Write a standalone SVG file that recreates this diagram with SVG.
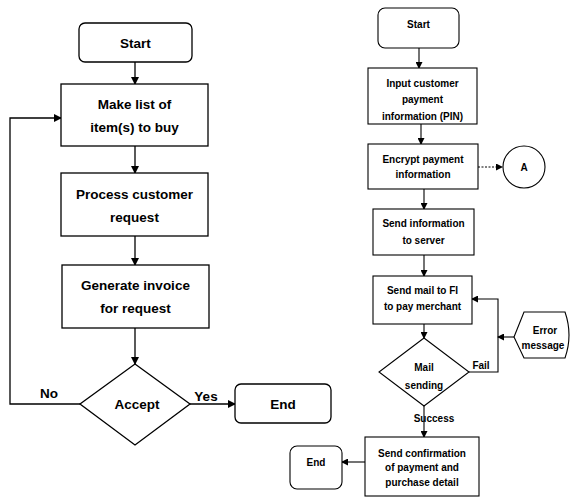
<svg xmlns="http://www.w3.org/2000/svg" width="572" height="499" viewBox="0 0 572 499">
<style>
.n{fill:#fff;stroke:#000;stroke-width:1.3}
.nr{fill:#fff;stroke:#000;stroke-width:1.1}
.c{fill:none;stroke:#000;stroke-width:1.3}
.cr{fill:none;stroke:#000;stroke-width:1.1}
.tl{font-family:"Liberation Sans",Arial,sans-serif;font-weight:bold;font-size:13.5px;text-anchor:middle;dominant-baseline:central}
.tr{font-family:"Liberation Sans",Arial,sans-serif;font-weight:bold;font-size:10px;text-anchor:middle;dominant-baseline:central}
</style>
<defs>
<marker id="ah" markerWidth="8" markerHeight="8" refX="7" refY="4" orient="auto" markerUnits="userSpaceOnUse"><path d="M0,0 L8,4 L0,8 Z" fill="#000"/></marker>
<marker id="ahs" markerWidth="7" markerHeight="7" refX="6" refY="3.5" orient="auto" markerUnits="userSpaceOnUse"><path d="M0,0 L7,3.5 L0,7 Z" fill="#000"/></marker>
</defs>
<g id="connectors">
<path class="c" d="M135,62 V84" marker-end="url(#ah)"/>
<path class="c" d="M135,146 V173" marker-end="url(#ah)"/>
<path class="c" d="M135,236 V265" marker-end="url(#ah)"/>
<path class="c" d="M135,328 V364" marker-end="url(#ah)"/>
<path class="c" d="M80,404 H10 V118 H61" marker-end="url(#ah)"/>
<path class="c" d="M190,404 H235" marker-end="url(#ah)"/>
<text class="tl" x="49" y="393">No</text>
<text class="tl" x="206" y="396">Yes</text>
<path class="cr" d="M419,48 V68" marker-end="url(#ahs)"/>
<path class="cr" d="M421,124 V144" marker-end="url(#ahs)"/>
<path class="cr" d="M478,167 H502" stroke-dasharray="2,1.5" marker-end="url(#ahs)"/>
<path class="cr" d="M424,189 V209" marker-end="url(#ahs)"/>
<path class="cr" d="M424,255 V276" marker-end="url(#ahs)"/>
<path class="cr" d="M424,324 V338" marker-end="url(#ahs)"/>
<path class="cr" d="M469,372 H498 V299 H472" marker-end="url(#ahs)"/>
<path class="cr" d="M514,337 H498" marker-end="url(#ahs)"/>
<path class="cr" d="M424,406 V437" marker-end="url(#ahs)"/>
<path class="cr" d="M365,462 H342" marker-end="url(#ahs)"/>
<text class="tr" x="481" y="365">Fail</text>
<text class="tr" x="434" y="418">Success</text>
</g>
<g id="start1"><rect class="n" x="79" y="23" width="113" height="39" rx="6"/><text class="tl" x="135.5" y="43">Start</text></g>
<g id="makelist"><rect class="n" x="61" y="84" width="147" height="62"/><text class="tl" x="134.5" y="104">Make list of</text><text class="tl" x="134.5" y="127">item(s) to buy</text></g>
<g id="process"><rect class="n" x="61" y="173" width="147" height="63"/><text class="tl" x="134.5" y="194">Process customer</text><text class="tl" x="134.5" y="217">request</text></g>
<g id="generate"><rect class="n" x="62" y="265" width="147" height="63"/><text class="tl" x="135.5" y="285">Generate invoice</text><text class="tl" x="135.5" y="308">for request</text></g>
<g id="accept"><polygon class="n" points="135,364 190,404 135,445 80,404"/><text class="tl" x="137" y="404">Accept</text></g>
<g id="end1"><rect class="n" x="235" y="384" width="96" height="39" rx="6"/><text class="tl" x="283" y="404">End</text></g>
<g id="start2"><rect class="nr" x="378" y="8" width="81" height="40" rx="7"/><text class="tr" x="418.5" y="24">Start</text></g>
<g id="input"><rect class="nr" x="368" y="68" width="109" height="56"/><text class="tr" x="422.5" y="83">Input customer</text><text class="tr" x="422.5" y="99">payment</text><text class="tr" x="422.5" y="116">information (PIN)</text></g>
<g id="encrypt"><rect class="nr" x="368" y="144" width="110" height="45"/><text class="tr" x="423" y="159">Encrypt payment</text><text class="tr" x="423" y="174">information</text></g>
<g id="connA"><circle class="nr" cx="524" cy="167" r="21"/><text class="tr" x="524" y="167">A</text></g>
<g id="sendinfo"><rect class="nr" x="373" y="209" width="101" height="46"/><text class="tr" x="423.5" y="223">Send information</text><text class="tr" x="423.5" y="240">to server</text></g>
<g id="sendmail"><rect class="nr" x="373" y="276" width="99" height="48"/><text class="tr" x="422.5" y="290">Send mail to FI</text><text class="tr" x="422.5" y="306">to pay merchant</text></g>
<g id="mailsending"><polygon class="nr" points="424,338 469,372 424,406 379,372"/><text class="tr" x="424" y="367">Mail</text><text class="tr" x="424" y="385">sending</text></g>
<g id="error"><path class="nr" d="M514,337 L524,312 H565 Q573,335 565,358 H524 Z"/><text class="tr" x="545" y="330">Error</text><text class="tr" x="543" y="345">message</text></g>
<g id="confirm"><rect class="nr" x="365" y="437" width="114" height="59"/><text class="tr" x="422" y="453">Send confirmation</text><text class="tr" x="422" y="467">of payment and</text><text class="tr" x="422" y="482">purchase detail</text></g>
<g id="end2"><rect class="nr" x="290" y="446" width="52" height="43" rx="7"/><text class="tr" x="316" y="462">End</text></g>
</svg>
